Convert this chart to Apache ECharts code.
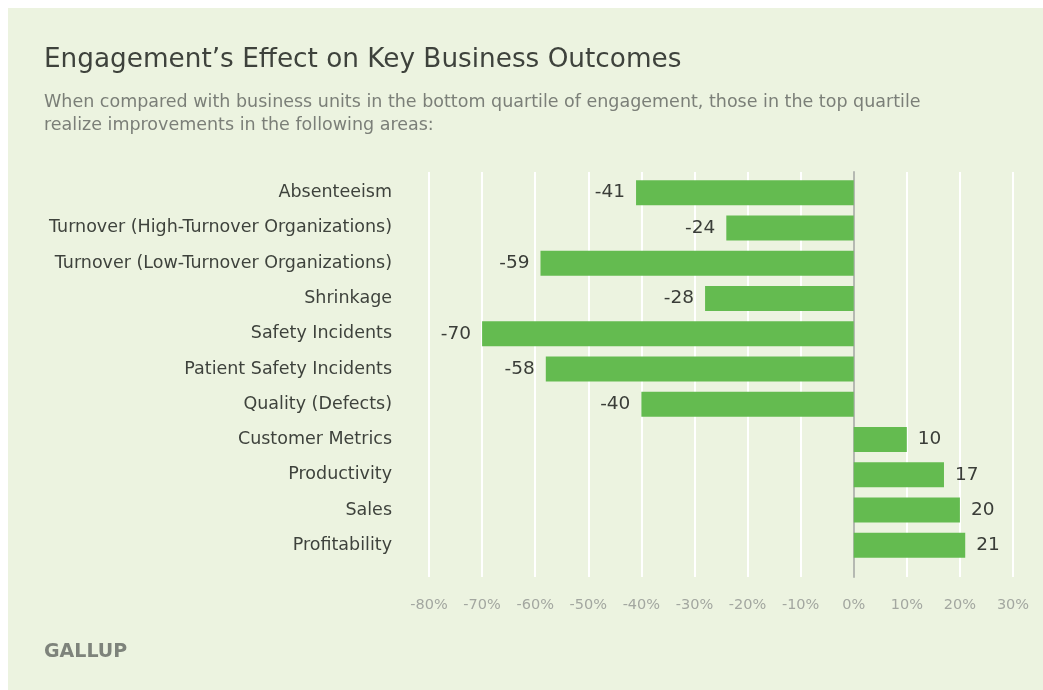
<!DOCTYPE html>
<html>
<head>
<meta charset="utf-8">
<script src="https://cdn.jsdelivr.net/npm/echarts@6/dist/echarts.min.js"></script>
<style>
  html, body { margin: 0; padding: 0; background: #ffffff; }
  #chart { width: 1043px; height: 690px; }
</style>
</head>
<body>
<div id="chart"></div>
<script>
// Outcome areas, top to bottom
const categories = [
  'Absenteeism',
  'Turnover (High-Turnover Organizations)',
  'Turnover (Low-Turnover Organizations)',
  'Shrinkage',
  'Safety Incidents',
  'Patient Safety Incidents',
  'Quality (Defects)',
  'Customer Metrics',
  'Productivity',
  'Sales',
  'Profitability'
];

// Percent difference, top vs bottom engagement quartile
const values = [-41, -24, -59, -28, -70, -58, -40, 10, 17, 20, 21];

// Percent scale
const axisMin = -80;
const axisMax = 30;
const axisStep = 10;

const titleText = 'Engagement\u2019s Effect on Key Business Outcomes';
const subtitleLines = [
  'When compared with business units in the bottom quartile of engagement, those in the top quartile',
  'realize improvements in the following areas:'
];
const sourceText = 'GALLUP';

const FONT = '"DejaVu Sans", "Open Sans", sans-serif';
const BG = '#ecf3e0';

const chart = echarts.init(document.getElementById('chart'), null, { renderer: 'canvas' });

chart.setOption({
  backgroundColor: '#ffffff',
  animation: false,
  graphic: [
    {
      type: 'rect',
      z: -10,
      shape: { x: 8, y: 8, width: 1043, height: 690 },
      style: { fill: BG }
    },
    {
      type: 'text',
      left: 44, top: 47,
      style: { text: titleText, font: '400 26.3px ' + FONT, fill: '#3e423c' }
    },
    {
      type: 'text',
      left: 44, top: 91,
      style: {
        text: subtitleLines.join('\n'),
        font: '400 17.5px ' + FONT,
        lineHeight: 23,
        fill: '#7b7f78'
      }
    },
    {
      type: 'text',
      left: 44, top: 643,
      style: { text: sourceText, font: '700 19px ' + FONT, fill: '#7e837b' }
    }
  ],
  grid: [
    // bars
    { left: 429, right: 30, top: 175, bottom: 127, containLabel: false },
    // grid lines, zero line and tick labels
    { left: 429, right: 30, top: 172, bottom: 113, containLabel: false }
  ],
  xAxis: [
    {
      gridIndex: 0,
      type: 'value',
      min: axisMin, max: axisMax, interval: axisStep,
      show: false
    },
    {
      gridIndex: 1,
      type: 'value',
      min: axisMin, max: axisMax, interval: axisStep,
      axisLine: { show: false },
      axisTick: { show: false },
      splitLine: { show: true, lineStyle: { color: '#ffffff', width: 2 } },
      axisLabel: {
        margin: 21,
        formatter: v => v + '%',
        color: '#a3a7a0',
        fontFamily: FONT,
        fontSize: 14.5
      }
    }
  ],
  yAxis: [
    {
      gridIndex: 0,
      type: 'category',
      data: categories,
      inverse: true,
      axisLine: { show: false },
      axisTick: { show: false },
      splitLine: { show: false },
      axisLabel: {
        margin: 37,
        color: '#3e423c',
        fontFamily: FONT,
        fontSize: 17.5
      }
    },
    {
      gridIndex: 1,
      type: 'value',
      min: 0, max: 1,
      axisLine: { show: true, onZero: true, lineStyle: { color: '#b5b9b2', width: 2 } },
      axisTick: { show: false },
      axisLabel: { show: false },
      splitLine: { show: false }
    }
  ],
  series: [
    {
      type: 'bar',
      xAxisIndex: 0,
      yAxisIndex: 0,
      data: values.map(v => ({
        value: v,
        label: { position: v < 0 ? 'left' : 'right' }
      })),
      barWidth: 25,
      itemStyle: { color: '#64bb50' },
      label: {
        show: true,
        distance: 11,
        color: '#3a3d38',
        fontFamily: FONT,
        fontSize: 18.5,
        fontWeight: 500
      },
      z: 5
    }
  ]
});
</script>
</body>
</html>
